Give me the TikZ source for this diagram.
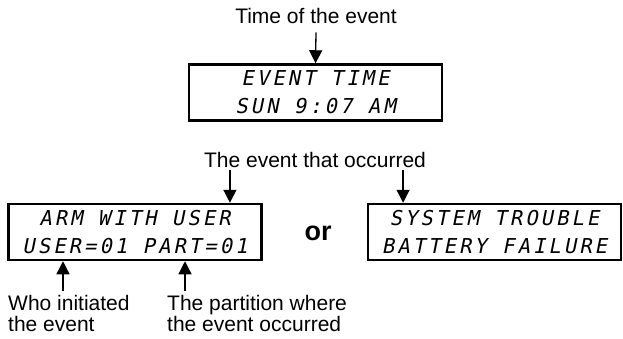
\documentclass[tikz,border=0pt]{standalone}
\usepackage{fontspec}
\setmainfont{Liberation Sans}
\newfontfamily\lcdfont[FakeSlant=0.2,LetterSpace=15]{DejaVu Sans Mono}
\usepackage{tikz}
\usetikzlibrary{arrows.meta,positioning}
\tikzset{lcdbox/.style={draw,line width=2.5pt,minimum width=253pt,minimum height=56pt,inner sep=0pt,align=center,font=\lcdfont\fontsize{20.5}{28}\selectfont},
  caption/.style={inner sep=0pt,font=\fontsize{21}{21.5}\selectfont},
  pointer/.style={line width=1.3pt,-{Triangle[width=13pt,length=13pt]}}}

\begin{document}
\begin{tikzpicture}
      \begin{scope}[x=1pt,y=-1pt]
        \useasboundingbox (0,0) rectangle (623,338);
        \node[lcdbox] (timebox) at (315.5,92.5) {EVENT TIME\\SUN 9:07 AM};
        \node[lcdbox] (armbox) at (135,232) {ARM WITH USER\\USER=01 PART=01};
        \node[lcdbox] (troublebox) at (494.5,232) {SYSTEM TROUBLE\\BATTERY FAILURE};
        \node[caption,anchor=base] (timelbl) at (316,23) {Time of the event};
        \node[caption,anchor=base] (occlbl) at (315,167) {The event that occurred};
        \node[anchor=base,inner sep=0pt,font=\bfseries\fontsize{27}{30}\selectfont] (orlbl) at (318,240) {or};
        \node[caption,anchor=north west,align=left] (wholbl) at (8,295) {Who initiated\\the event};
        \node[caption,anchor=north west,align=left] (partlbl) at (167,295) {The partition where\\the event occurred};
        \draw[pointer] ([yshift=-9pt]timelbl.south) -- (timebox.north);
        \draw[pointer] ([xshift=26pt,yshift=-3pt]occlbl.south west) coordinate (a) -- (a |- armbox.north);
        \draw[pointer] ([xshift=-23pt,yshift=-3pt]occlbl.south east) coordinate (b) -- (b |- troublebox.north);
        \draw[pointer] ([xshift=55pt,yshift=4pt]wholbl.north west) coordinate (c) -- (c |- armbox.south);
        \draw[pointer] ([xshift=18pt,yshift=4pt]partlbl.north west) coordinate (d) -- (d |- armbox.south);
      \end{scope}
    \end{tikzpicture}
\end{document}
